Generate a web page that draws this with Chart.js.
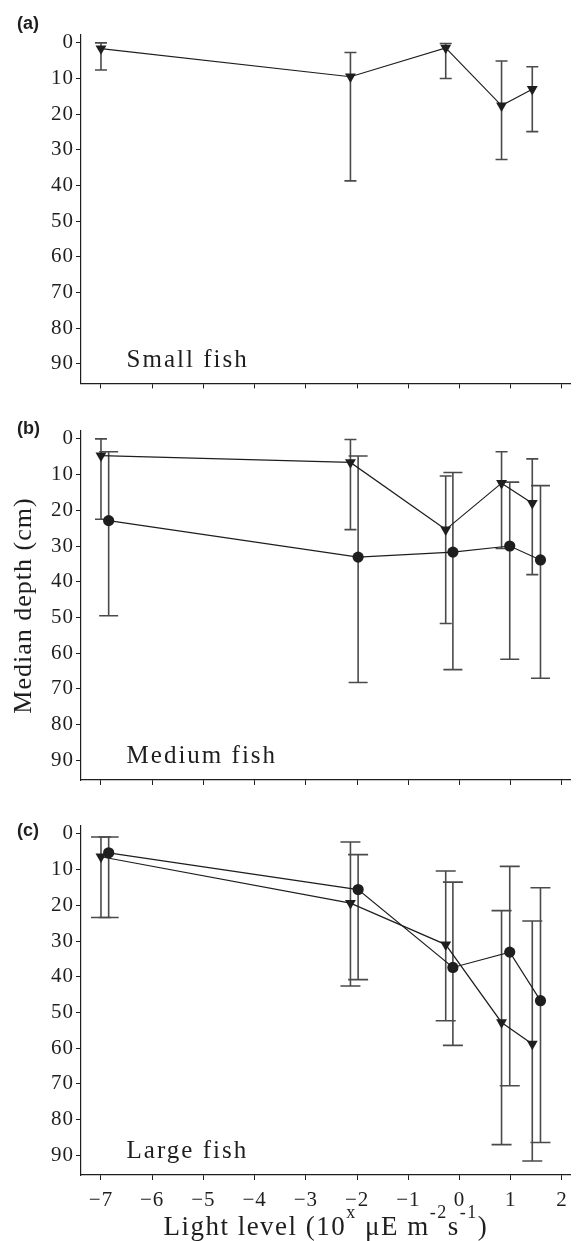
<!DOCTYPE html>
<html>
<head>
<meta charset="utf-8">
<script src="https://cdn.jsdelivr.net/npm/chart.js@4.4.0/dist/chart.umd.min.js"></script>
<style>
  html, body { margin: 0; padding: 0; background: #fff; }
  .panel { position: absolute; left: 0; width: 577px; }
</style>
</head>
<body>
<div class="panel" style="top:0;height:398px"><canvas id="chart-a"></canvas></div>
<div class="panel" style="top:396px;height:399px"><canvas id="chart-b"></canvas></div>
<div class="panel" style="top:795px;height:446px"><canvas id="chart-c"></canvas></div>
<script>
// light level (log10 of µE m-2 s-1)
const lightTicks = [-7, -6, -5, -4, -3, -2, -1, 0, 1, 2];
const lightTickLabels = ['−7', '−6', '−5', '−4', '−3', '−2', '−1', '0', '1', '2'];
const depthTicks = [0, 10, 20, 30, 40, 50, 60, 70, 80, 90];

// x positions of the two symbol series (circles are offset a little to the right)
const lightTri = [-7.0, -2.13, -0.27, 0.82, 1.42];
const lightCirc = [-6.85, -1.98, -0.13, 0.98, 1.58];

// (a) small fish
const smallMed = [1.6, 9.5, 1.4, 17.6, 13.0];
const smallLow = [0, 2.7, 0.2, 5.1, 6.7];
const smallHigh = [7.6, 38.7, 10.0, 32.7, 24.9];

// (b) medium fish
const medTriMed = [4.7, 6.6, 25.4, 12.4, 18.0];
const medTriLow = [0, 0.2, 10.4, 3.6, 5.6];
const medTriHigh = [22.5, 25.4, 51.7, 30.7, 38.0];
const medCircMed = [22.9, 33.1, 31.7, 30.0, 33.9];
const medCircLow = [3.6, 4.8, 9.4, 12.1, 13.1];
const medCircHigh = [49.5, 68.2, 64.6, 61.7, 67.0];

// (c) large fish
const largeTriMed = [6.4, 19.4, 31.0, 52.8, 58.8];
const largeTriLow = [0.9, 2.3, 10.4, 21.5, 24.4];
const largeTriHigh = [23.4, 42.6, 52.3, 87.0, 91.6];
const largeCircMed = [5.3, 15.6, 37.4, 33.1, 46.7];
const largeCircLow = [0.9, 5.8, 13.5, 9.1, 15.1];
const largeCircHigh = [23.4, 40.8, 59.2, 70.5, 86.4];

const ink = '#1e1e1e';
const serif = '"Liberation Serif", "Times New Roman", serif';

// vertical bars with caps, drawn under the markers
const errorBars = {
  id: 'errorBars',
  beforeDatasetsDraw(chart) {
    const { ctx, scales: { x, y } } = chart;
    ctx.save();
    ctx.strokeStyle = '#4a4a4a';
    ctx.lineWidth = 1.6;
    chart.data.datasets.forEach(ds => {
      if (!ds.errLow) return;
      const half = ds.capWidth / 2;
      ds.data.forEach((p, i) => {
        const px = x.getPixelForValue(p.x);
        const top = y.getPixelForValue(ds.errLow[i]);
        const bot = y.getPixelForValue(ds.errHigh[i]);
        ctx.beginPath();
        ctx.moveTo(px, top); ctx.lineTo(px, bot);
        ctx.moveTo(px - half, top); ctx.lineTo(px + half, top);
        ctx.moveTo(px - half, bot); ctx.lineTo(px + half, bot);
        ctx.stroke();
      });
    });
    ctx.restore();
  }
};

// panel tag, fish size label and (for the last panel) the x axis title with superscripts
const panelText = {
  id: 'panelText',
  beforeDraw(chart) {
    chart.ctx.letterSpacing = '1px';
  },
  afterDraw(chart, args, opts) {
    const { ctx, scales: { x, y }, chartArea } = chart;
    ctx.save();
    ctx.fillStyle = ink;
    ctx.letterSpacing = '0px';
    ctx.textBaseline = 'middle';
    ctx.font = 'bold 18px "Liberation Sans", Arial, sans-serif';
    ctx.fillText(opts.tag, 17, opts.tagY);

    ctx.textBaseline = 'alphabetic';
    ctx.letterSpacing = '2px';
    ctx.font = '25px ' + serif;
    ctx.fillText(opts.name, x.getPixelForValue(-6.5), y.getPixelForValue(90.8));

    if (opts.xTitle) {
      const parts = opts.xTitle;
      ctx.letterSpacing = '1.5px';
      const fontFor = p => (p.sup ? '18px ' : '27px ') + serif;
      let w = 0;
      parts.forEach(p => { ctx.font = fontFor(p); w += ctx.measureText(p.t).width; });
      let cx = (chartArea.left + chartArea.right) / 2 - w / 2;
      parts.forEach(p => {
        ctx.font = fontFor(p);
        ctx.fillText(p.t, cx, opts.titleBase - (p.sup ? 17 : 0));
        cx += ctx.measureText(p.t).width;
      });
    }
    ctx.restore();
  }
};

function series(xs, med, low, high, marker, cap) {
  const tri = marker === 'tri';
  return {
    data: xs.map((v, i) => ({ x: v, y: med[i] })),
    errLow: low,
    errHigh: high,
    capWidth: cap,
    borderColor: ink,
    borderWidth: 1.2,
    tension: 0,
    fill: false,
    pointStyle: tri ? 'triangle' : 'circle',
    rotation: tri ? 180 : 0,
    pointRadius: tri ? 6.3 : 5.6,
    pointBackgroundColor: ink,
    pointBorderColor: ink,
    pointBorderWidth: 0
  };
}

const axisGrid = { display: true, drawOnChartArea: false, drawTicks: true, tickLength: 5, color: ink, lineWidth: 1 };
const axisBorder = { display: true, color: ink, width: 1.2 };

function makePanel(id, datasets, o) {
  return new Chart(document.getElementById(id), {
    type: 'line',
    data: { datasets },
    options: {
      responsive: true,
      maintainAspectRatio: false,
      animation: false,
      layout: { padding: { top: o.padTop, left: 0, right: 0, bottom: 0 } },
      plugins: {
        legend: { display: false },
        tooltip: { enabled: false },
        panelText: { tag: o.tag, tagY: o.tagY, name: o.name, xTitle: o.xTitle, titleBase: o.titleBase }
      },
      scales: {
        x: {
          type: 'linear',
          min: -7.39,
          max: 2.17,
          afterBuildTicks: s => { s.ticks = lightTicks.map(v => ({ value: v })); },
          afterFit: s => { s.height = o.xHeight; },
          grid: axisGrid,
          border: axisBorder,
          ticks: {
            display: !!o.xTitle,
            autoSkip: false,
            maxRotation: 0,
            padding: 8,
            color: ink,
            font: { family: serif, size: 21 },
            callback: v => lightTickLabels[lightTicks.indexOf(v)]
          }
        },
        y: {
          reverse: true,
          min: -2.2,
          max: 95.5,
          afterBuildTicks: s => { s.ticks = depthTicks.map(v => ({ value: v })); },
          afterFit: s => { s.width = 81; },
          grid: axisGrid,
          border: axisBorder,
          ticks: { padding: 2, color: ink, font: { family: serif, size: 21 } },
          title: {
            display: !!o.yTitle,
            text: o.yTitle || '',
            color: ink,
            font: { family: serif, size: 26 },
            padding: { top: 9, bottom: 0 }
          }
        }
      }
    },
    plugins: [errorBars, panelText]
  });
}

makePanel('chart-a', [
  series(lightTri, smallMed, smallLow, smallHigh, 'tri', 12)
], { padTop: 35, xHeight: 14, tag: '(a)', tagY: 24.5, name: 'Small fish' });

makePanel('chart-b', [
  series(lightTri, medTriMed, medTriLow, medTriHigh, 'tri', 12),
  series(lightCirc, medCircMed, medCircLow, medCircHigh, 'circ', 19)
], { padTop: 35, xHeight: 15, tag: '(b)', tagY: 32.7, name: 'Medium fish', yTitle: 'Median depth (cm)' });

makePanel('chart-c', [
  series(lightTri, largeTriMed, largeTriLow, largeTriHigh, 'tri', 20),
  series(lightCirc, largeCircMed, largeCircLow, largeCircHigh, 'circ', 20)
], {
  padTop: 31, xHeight: 66, tag: '(c)', tagY: 36, name: 'Large fish', titleBase: 440,
  xTitle: [
    { t: 'Light level (10' }, { t: 'x', sup: true }, { t: ' μE m' },
    { t: '-2', sup: true }, { t: 's' }, { t: '-1', sup: true }, { t: ')' }
  ]
});
</script>
</body>
</html>
